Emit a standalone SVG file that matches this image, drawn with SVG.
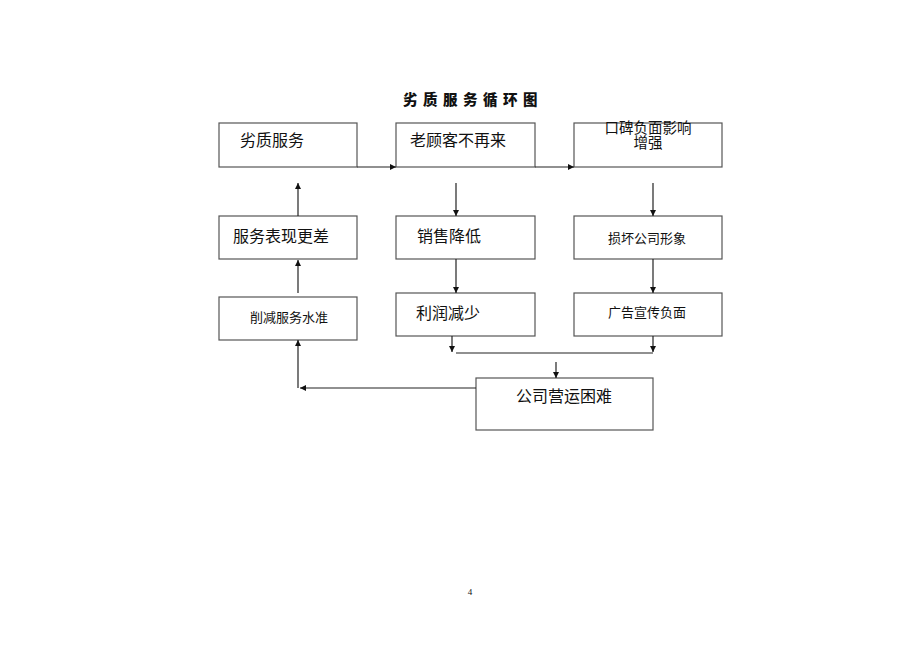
<svg xmlns="http://www.w3.org/2000/svg" width="920" height="651" viewBox="0 0 920 651">
<defs>
<marker id="ah" viewBox="0 0 10 10" refX="10" refY="5" markerWidth="6" markerHeight="6" markerUnits="userSpaceOnUse" orient="auto">
<path d="M0,0 L10,5 L0,10 z" fill="#111"/>
</marker>
<style>
.box{fill:#fff;stroke:#555;stroke-width:1.2}
.t{font-family:"Liberation Sans","Noto Sans CJK SC",sans-serif;fill:#111}
.l{font-size:16px}
.s{font-size:13px}
.c{fill:none;stroke:#222;stroke-width:1.2}
</style>
</defs>
<rect width="920" height="651" fill="#fff"/>
<text class="t" x="403" y="105" style="font-size:14.5px;font-weight:900;letter-spacing:5.5px">劣质服务循环图</text>

<g id="n1"><rect class="box" x="219" y="123" width="138" height="44"/><text class="t l" x="240" y="146">劣质服务</text></g>
<g id="n2"><rect class="box" x="396" y="123" width="139" height="44"/><text class="t l" x="410" y="146">老顾客不再来</text></g>
<g id="n3"><rect class="box" x="574" y="123" width="148" height="44"/><text class="t" x="648" y="133" text-anchor="middle" style="font-size:14.5px">口碑负面影响</text><text class="t" x="648" y="148" text-anchor="middle" style="font-size:14.5px">增强</text></g>
<g id="n4"><rect class="box" x="219" y="216" width="138" height="43"/><text class="t l" x="233" y="242">服务表现更差</text></g>
<g id="n5"><rect class="box" x="396" y="216" width="139" height="43"/><text class="t l" x="417" y="242">销售降低</text></g>
<g id="n6"><rect class="box" x="574" y="216" width="148" height="43"/><text class="t s" x="608" y="243">损坏公司形象</text></g>
<g id="n7"><rect class="box" x="219" y="297" width="138" height="43"/><text class="t s" x="250" y="322">削减服务水准</text></g>
<g id="n8"><rect class="box" x="396" y="293" width="139" height="43"/><text class="t l" x="416" y="319">利润减少</text></g>
<g id="n9"><rect class="box" x="574" y="293" width="148" height="43"/><text class="t s" x="608" y="317">广告宣传负面</text></g>
<g id="n10"><rect class="box" x="476" y="378" width="177" height="52"/><text class="t l" x="516" y="402">公司营运困难</text></g>

<g id="connectors">
<line class="c" x1="357" y1="167" x2="396" y2="167" marker-end="url(#ah)"/>
<line class="c" x1="535" y1="167" x2="574" y2="167" marker-end="url(#ah)"/>
<line class="c" x1="456" y1="183" x2="456" y2="216" marker-end="url(#ah)"/>
<line class="c" x1="653" y1="183" x2="653" y2="216" marker-end="url(#ah)"/>
<line class="c" x1="456" y1="259" x2="456" y2="293" marker-end="url(#ah)"/>
<line class="c" x1="653" y1="259" x2="653" y2="293" marker-end="url(#ah)"/>
<line class="c" x1="298" y1="216" x2="298" y2="183" marker-end="url(#ah)"/>
<line class="c" x1="298" y1="293" x2="298" y2="260" marker-end="url(#ah)"/>
<line class="c" x1="452" y1="336" x2="452" y2="352" marker-end="url(#ah)"/>
<line class="c" x1="653" y1="336" x2="653" y2="352" marker-end="url(#ah)"/>
<line class="c" x1="456" y1="353" x2="653" y2="353"/>
<line class="c" x1="556" y1="362" x2="556" y2="378" marker-end="url(#ah)"/>
<line class="c" x1="476" y1="388" x2="300" y2="388" marker-end="url(#ah)"/>
<line class="c" x1="298" y1="388" x2="298" y2="340" marker-end="url(#ah)"/>
</g>
<text x="470" y="595" text-anchor="middle" style="font-family:'Liberation Serif',serif;font-size:9px" fill="#111">4</text>
</svg>
